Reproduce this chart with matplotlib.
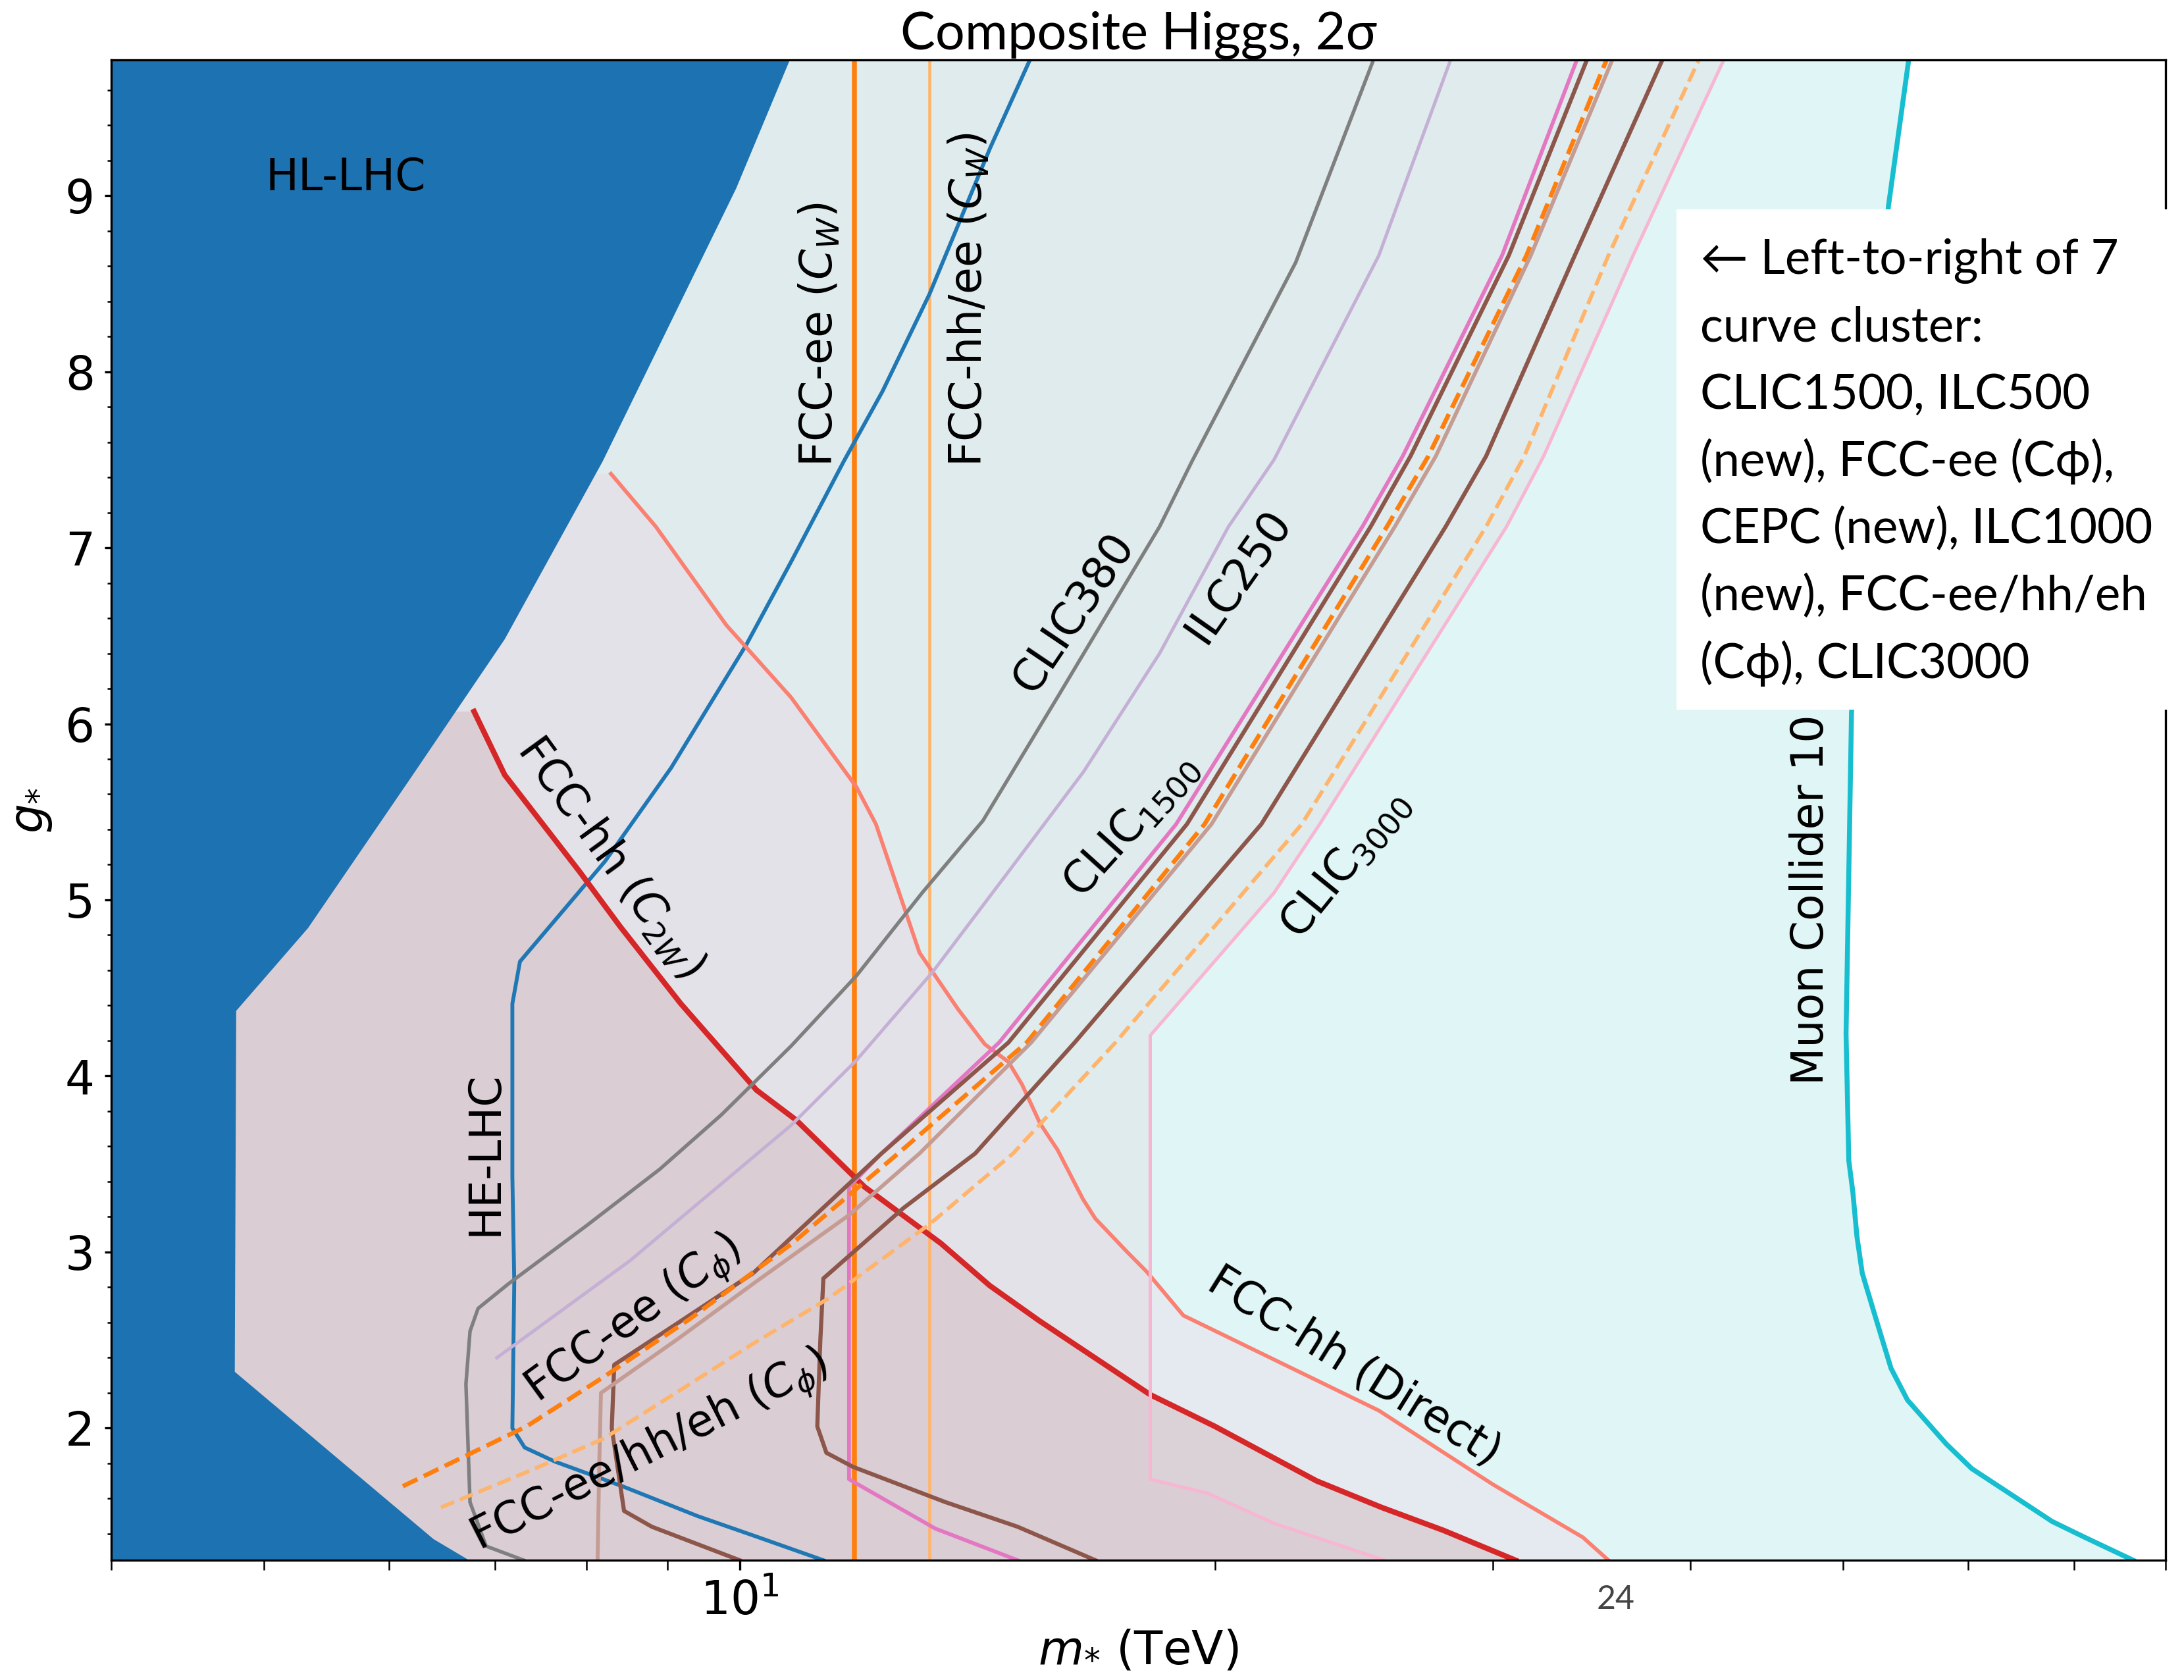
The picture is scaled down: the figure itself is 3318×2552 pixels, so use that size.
import numpy as np
import matplotlib
matplotlib.use("Agg")
import matplotlib.pyplot as plt
from matplotlib.patches import Rectangle
from matplotlib.ticker import FixedLocator, MultipleLocator, NullFormatter

M_MIN, M_MAX = 4, 80
G_MIN, G_MAX = 1.25, 9.77

# HL-LHC excluded region (boundary, top to bottom)
hllhc_m = [10.76, 9.95, 8.19, 7.10, 6.21, 5.33, 4.80, 4.79, 6.40, 6.74]
hllhc_g = [9.77, 9.04, 7.49, 6.48, 5.71, 4.84, 4.37, 2.32, 1.37, 1.25]

# HE-LHC
helhc_m = [11.30, 10.28, 9.41, 8.43, 7.64, 7.31, 7.18, 7.20, 7.18, 7.18, 7.26,
           8.22, 9.05, 10.10, 10.78, 11.64, 12.32, 13.19, 14.41, 15.27]
helhc_g = [1.25, 1.38, 1.50, 1.67, 1.81, 1.89, 2.00, 2.83, 3.43, 4.41, 4.65,
           5.22, 5.75, 6.45, 6.92, 7.49, 7.89, 8.44, 9.27, 9.77]

# FCC-hh (C2W)
c2w_m = [6.79, 7.10, 7.92, 8.40, 9.18, 10.25, 10.86, 12.0, 13.41, 14.4, 15.48,
         18.2, 20.0, 23.2, 25.5, 27.9, 31.0]
c2w_g = [6.07, 5.71, 5.16, 4.85, 4.41, 3.92, 3.75, 3.37, 3.05, 2.81, 2.61,
         2.19, 2.01, 1.70, 1.55, 1.42, 1.25]

# FCC-hh (Direct)
direct_m = [8.29, 8.85, 9.81, 10.78, 11.86, 12.2, 13.0, 13.75, 14.3, 14.8, 15.1,
            15.5, 15.9, 16.5, 16.8, 17.6, 18.1, 19.1, 25.4, 30.0, 34.2, 35.5]
direct_g = [7.42, 7.12, 6.56, 6.15, 5.64, 5.43, 4.70, 4.38, 4.18, 4.08, 3.95,
            3.73, 3.58, 3.30, 3.19, 3.00, 2.89, 2.64, 2.10, 1.68, 1.38, 1.25]

# Muon Collider 10
muon_m = [55.0, 53.4, 51.8, 50.6, 50.2, 50.4, 50.7, 51.0, 51.4, 52.4, 53.6,
          54.9, 58.1, 60.3, 64.7, 67.8, 71.1, 76.3]
muon_g = [9.77, 8.94, 7.50, 6.06, 4.24, 3.52, 3.34, 3.09, 2.88, 2.63, 2.34,
          2.16, 1.91, 1.77, 1.59, 1.47, 1.38, 1.25]

# FCC-ee (C_W) and FCC-hh/ee (C_W): vertical limits
fccee_cw_m = 11.82
fcchh_cw_m = 13.19

# CLIC380
clic380_m = [7.30, 6.91, 6.75, 6.71, 6.75, 6.83, 7.14, 8.0, 8.9, 9.74, 10.78,
             11.86, 13.05, 14.26, 15.92, 18.45, 19.34, 22.5, 25.2]
clic380_g = [1.25, 1.33, 1.58, 2.25, 2.55, 2.68, 2.82, 3.15, 3.47, 3.78, 4.17,
             4.57, 5.04, 5.45, 6.16, 7.12, 7.49, 8.62, 9.77]

# ILC250
ilc250_m = [7.02, 8.52, 10.78, 11.86, 13.25, 14.80, 16.52, 18.45, 20.4, 21.8, 25.4, 28.2]
ilc250_g = [2.40, 2.95, 3.72, 4.09, 4.59, 5.16, 5.73, 6.40, 7.12, 7.50, 8.66, 9.77]

# 7 curve cluster
clic1500_m = [15.0, 13.3, 11.73, 11.73, 12.3, 14.6, 18.9, 24.8, 26.3, 30.4, 33.9]
clic1500_g = [1.25, 1.43, 1.71, 3.37, 3.56, 4.19, 5.43, 7.12, 7.52, 8.66, 9.77]

ilc500_m = [10.0, 8.8, 8.45, 8.3, 8.33, 9.15, 10.2, 12.3, 14.8, 19.2, 25.1, 26.6, 30.7, 34.4]
ilc500_g = [1.25, 1.44, 1.53, 2.0, 2.36, 2.60, 2.88, 3.56, 4.19, 5.43, 7.12, 7.52, 8.66, 9.77]

fccee_phi_m = [6.12, 7.33, 8.2, 9.3, 10.8, 12.6, 15.2, 19.7, 25.7, 27.3, 31.5, 35.4]
fccee_phi_g = [1.67, 2.01, 2.29, 2.62, 3.05, 3.56, 4.19, 5.43, 7.12, 7.52, 8.66, 9.77]

cepc_m = [8.13, 8.15, 8.17, 9.15, 10.2, 11.73, 13.0, 15.3, 19.9, 26.0, 27.6, 31.7, 35.7]
cepc_g = [1.25, 1.80, 2.20, 2.51, 2.82, 3.21, 3.56, 4.19, 5.43, 7.12, 7.52, 8.66, 9.77]

ilc1000_m = [16.8, 15.0, 13.5, 11.8, 11.35, 11.2, 11.25, 11.3, 12.7, 14.1, 16.3,
             21.4, 28.0, 29.7, 33.8, 38.4]
ilc1000_g = [1.25, 1.44, 1.58, 1.78, 1.86, 2.01, 2.50, 2.85, 3.25, 3.56, 4.19,
             5.43, 7.12, 7.52, 8.66, 9.77]

fccall_phi_m = [6.47, 7.33, 8.2, 9.15, 10.2, 11.4, 13.2, 14.9, 17.3, 22.7, 29.7, 31.4, 35.5, 40.5]
fccall_phi_g = [1.55, 1.75, 1.94, 2.21, 2.48, 2.74, 3.16, 3.56, 4.19, 5.43, 7.12, 7.52, 8.66, 9.77]

clic3000_m = [25.6, 21.8, 19.8, 18.2, 18.2, 21.8, 23.3, 30.6, 32.3, 36.8, 42.0]
clic3000_g = [1.25, 1.46, 1.63, 1.71, 4.23, 5.04, 5.43, 7.12, 7.52, 8.66, 9.77]

box_lines = ["\u2190 Left-to-right of 7", "curve cluster:", "CLIC1500, ILC500",
             "(new), FCC-ee (C\u03d5),", "CEPC (new), ILC1000",
             "(new), FCC-ee/hh/eh", "(C\u03d5), CLIC3000"]


def fill_left(ax, m, g, color, z, alpha=1.0):
    xs = np.concatenate(([M_MIN], m, [M_MIN]))
    ys = np.concatenate(([g[0]], g, [g[-1]]))
    ax.fill(xs, ys, color=color, alpha=alpha, lw=0, zorder=z)


fig = plt.figure(figsize=(11.06, 8.5067), dpi=300)
ax = fig.add_axes([0.0509, 0.0713, 0.9407, 0.8930])
ax.set_xscale('log')

# shaded regions
fill_left(ax, muon_m, muon_g, '#e0f5f5', 0.2)
fill_left(ax, clic3000_m, clic3000_g, '#dfebec', 0.3)
fill_left(ax, direct_m, direct_g, '#f2d0e5', 0.4, alpha=0.3)
fill_left(ax, c2w_m, c2w_g, '#c69da1', 0.5, alpha=0.3)
fill_left(ax, hllhc_m, hllhc_g, '#1d72b2', 0.6)

# lines
ax.axvline(fccee_cw_m, color='#ff7f0e', lw=1.8, zorder=2)
ax.axvline(fcchh_cw_m, color='#ffb46b', lw=1.1, zorder=2)
ax.plot(helhc_m, helhc_g, color='#1f77b4', lw=1.4, zorder=2)
ax.plot(c2w_m, c2w_g, color='#d62728', lw=2.0, zorder=2)
ax.plot(direct_m, direct_g, color='salmon', lw=1.4, zorder=2)
ax.plot(muon_m, muon_g, color='#17becf', lw=1.8, zorder=2)
ax.plot(clic380_m, clic380_g, color='#7f7f7f', lw=1.3, zorder=2)
ax.plot(ilc250_m, ilc250_g, color='#c5b0d5', lw=1.2, zorder=2)
ax.plot(clic1500_m, clic1500_g, color='#e377c2', lw=1.4, zorder=2)
ax.plot(ilc500_m, ilc500_g, color='#8c564b', lw=1.5, zorder=2)
ax.plot(fccee_phi_m, fccee_phi_g, color='#ff7f0e', lw=1.6, ls='--', zorder=2)
ax.plot(cepc_m, cepc_g, color='#c49c94', lw=1.4, zorder=2)
ax.plot(ilc1000_m, ilc1000_g, color='#8c564b', lw=1.5, zorder=2)
ax.plot(fccall_phi_m, fccall_phi_g, color='#ffb46b', lw=1.4, ls='--', zorder=2)
ax.plot(clic3000_m, clic3000_g, color='#f7b6d2', lw=1.2, zorder=2)

# curve labels
lab = dict(fontsize=16, ha='center', va='center', rotation_mode='anchor', zorder=3)
ax.text(5.63, 9.10, 'HL-LHC', **lab)
ax.text(11.24, 8.21, r'FCC-ee ($C_W$)', rotation=90, **lab)
ax.text(13.98, 8.41, r'FCC-hh/ee ($C_W$)', rotation=90, **lab)
ax.text(16.28, 6.63, 'CLIC380', rotation=56, **lab)
ax.text(20.7, 6.84, 'ILC250', rotation=55, **lab)
ax.text(17.7, 5.42, r'CLIC$_{1500}$', rotation=48, **lab)
ax.text(24.2, 5.20, r'CLIC$_{3000}$', rotation=51, **lab)
ax.text(8.28, 5.24, r'FCC-hh ($C_{2W}$)', rotation=-54, **lab)
ax.text(6.90, 3.56, 'HE-LHC', rotation=90, **lab)
ax.text(8.58, 2.61, r'FCC-ee ($C_\phi$)', rotation=36, **lab)
ax.text(8.78, 1.86, r'FCC-ee/hh/eh ($C_\phi$)', rotation=27, **lab)
ax.text(24.5, 2.35, 'FCC-hh (Direct)', rotation=-32, **lab)
ax.text(47.7, 5.0, 'Muon Collider 10', rotation=90, **lab)

ax.set_xlim(M_MIN, M_MAX)
ax.set_ylim(G_MIN, G_MAX)
ax.xaxis.set_major_locator(FixedLocator([10]))
ax.xaxis.set_minor_locator(FixedLocator([4, 5, 6, 7, 8, 9, 20, 30, 40, 50, 60, 70, 80]))
ax.xaxis.set_minor_formatter(NullFormatter())
ax.yaxis.set_major_locator(MultipleLocator(1))
ax.yaxis.set_minor_locator(MultipleLocator(0.2))
ax.tick_params(axis='both', labelsize=17)
ax.tick_params(axis='x', which='both', length=3.5)
ax.tick_params(axis='y', which='major', length=2.5)
ax.tick_params(axis='y', which='minor', length=1.5)

ax.set_xlabel(r'$m_{*}$ (TeV)', fontsize=17, labelpad=1)
ax.set_ylabel(r'$g_{*}$', fontsize=17, labelpad=4)
ax.set_title('Composite Higgs, 2\u03c3', fontsize=19, family=['Lato', 'DejaVu Sans'], pad=4)

# annotation box laid over the right edge
fig.add_artist(Rectangle((0.7676, 0.5776), 0.2324, 0.2978, transform=fig.transFigure,
                         facecolor='white', edgecolor='none', zorder=5))
for i, line in enumerate(box_lines):
    y = 1 - (416 + 102.3 * i) / 2552
    fig.text(0.7785, y, line, fontsize=17.5, family=['Lato', 'DejaVu Sans'],
             ha='left', va='baseline', zorder=6)

fig.text(2455 / 3318, 1 - 2430 / 2552, '24', fontsize=12, color='#444444',
         family=['Lato', 'DejaVu Sans'], ha='center', va='center')

fig.savefig('out.png', dpi=300)
